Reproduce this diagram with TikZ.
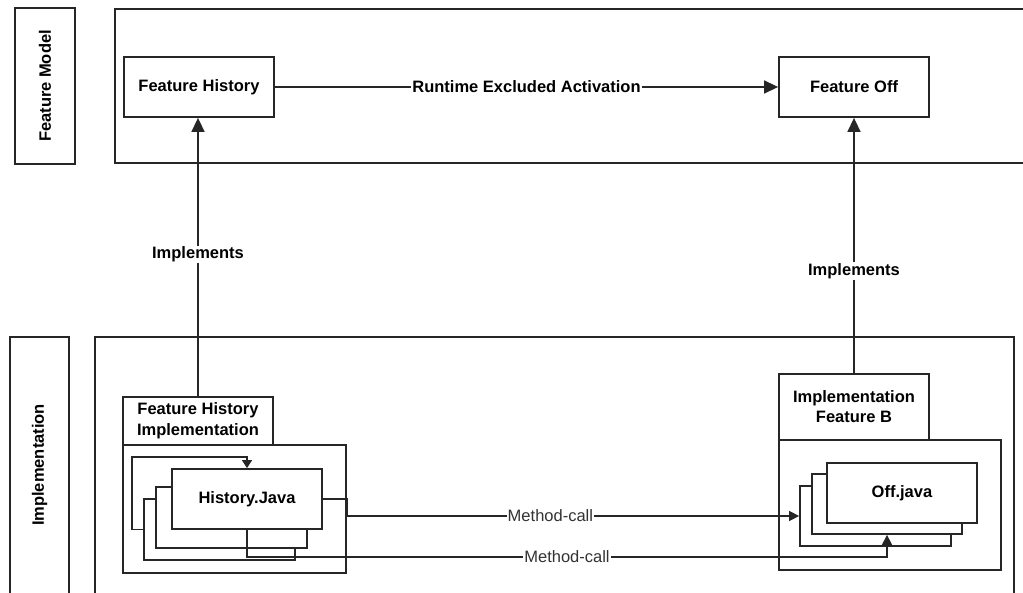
\documentclass[tikz,border=0pt]{standalone}
\usepackage{fontspec}
\setmainfont{Liberation Sans}
\usetikzlibrary{arrows.meta,calc}
\begin{document}
\begin{tikzpicture}[x=1pt,y=-1pt,
  frame/.style={line width=1.8pt, draw=black!85},
  box/.style={rectangle, draw=black!85, line width=1.8pt, fill=white,
    minimum width=150pt, minimum height=60pt, inner sep=0pt,
    font=\fontsize{16.5}{19}\selectfont\bfseries, align=center},
  lane/.style={font=\fontsize{16.5}{19}\selectfont\bfseries, rotate=90},
  link/.style={line width=1.5pt, draw=black!85,
    -{Triangle[length=14pt,width=13pt]}},
  call/.style={line width=1.3pt, draw=black!85,
    -{Triangle[length=10pt,width=10pt]}},
  bold lbl/.style={fill=white, inner sep=1pt,
    font=\fontsize{16.5}{19}\selectfont\bfseries},
  call lbl/.style={fill=white, inner sep=1pt,
    font=\fontsize{16.5}{19}\selectfont, text=black!80}]
\useasboundingbox (0,0) rectangle (1023,593);

% swim lanes
\draw[frame] (15,8) rectangle (75,164);
\node[lane] (lanefm) at (45,86) {Feature Model};
\draw[frame] (1030,9) -- (115,9) -- (115,163) -- (1030,163);

\draw[frame] (10,600) -- (10,337) -- (69,337) -- (69,600);
\node[lane] (laneimpl) at (39.5,465) {Implementation};
\draw[frame] (95,600) -- (95,337) -- (1014,337) -- (1014,600);

% feature model
\node[box] (fh) at (199,87) {Feature History};
\node[box] (fo) at (854,87) {Feature Off};

% history implementation package
\node[box, minimum width=150pt, minimum height=48pt] (htab) at (198,421)
  {Feature History\\[2pt]Implementation};
\node[box, minimum width=223pt, minimum height=128pt] (hcont) at (234.5,509) {};
\node[box, minimum width=151pt, minimum height=61pt] (hb3) at (219.5,529.5) {};
\node[box, minimum width=151pt, minimum height=61pt] (hb2) at (231.5,517.5) {};
\node[box] (hb1) at (247,499) {History.Java};

% off implementation package
\node[box, minimum width=150pt, minimum height=66pt] (otab) at (854,407)
  {Implementation\\[1pt]Feature B};
\node[box, minimum width=222pt, minimum height=130pt] (ocont) at (890,505) {};
\node[box, minimum width=151pt] (ob3) at (875.5,516) {};
\node[box] (ob2) at (887,504) {};
\node[box] (ob1) at (902,493) {Off.java};

% feature-level relations
\draw[link] (fh.east) -- node[bold lbl]{Runtime Excluded Activation} (fo.west);
\draw[link] (htab.north) -- node[bold lbl, pos=0.51]{Implements} (htab.north |- fh.south);
\draw[link] (otab.north) -- node[bold lbl, pos=0.40]{Implements} (otab.north |- fo.south);

% method calls
\draw[line width=1.3pt, draw=black!85, -{Triangle[length=8pt,width=10pt]}]
  (hb3.west) -- ++(-11,0) |- ([yshift=11pt]hb1.north) -- (hb1.north);
\draw[call] (hb1.east) -| (hcont.east |- ob3.west)
  -- node[call lbl, pos=0.45]{Method-call} (ob3.west);
\coordinate (lowrail) at (0,557);
\draw[call] (hb1.south) -- (hb1.south |- lowrail)
  -- node[call lbl]{Method-call} (ob2.south |- lowrail) -- (ob2.south);
\end{tikzpicture}
\end{document}
